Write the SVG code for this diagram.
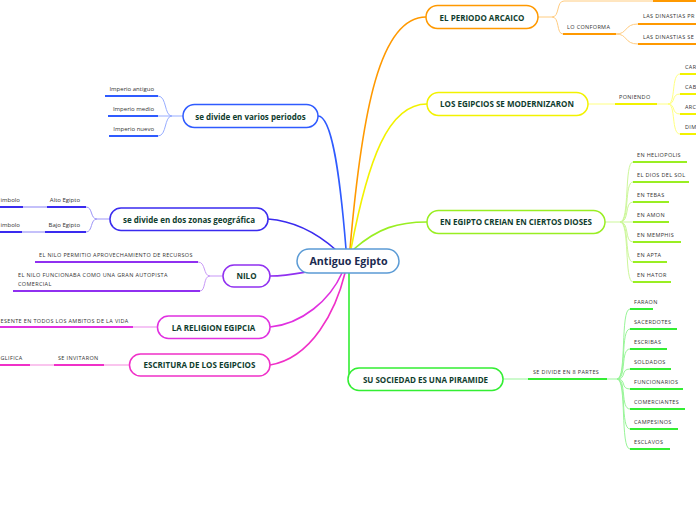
<svg xmlns="http://www.w3.org/2000/svg" width="696" height="520" viewBox="0 0 696 520">
<style>
.bg{fill:#ffffff}
.node{fill:#ffffff;stroke-width:1.5}
.nt{font-family:"Open Sans","Liberation Sans",sans-serif;font-weight:bold;font-size:8px;fill:#0f3d2e;text-anchor:middle}
.ct{font-family:"Open Sans","Liberation Sans",sans-serif;font-weight:bold;font-size:10.7px;fill:#1b2a4f;text-anchor:middle}
.st{font-family:"Open Sans","Liberation Sans",sans-serif;font-size:5.5px;letter-spacing:0.35px;fill:#333333}
.lt{font-family:"Open Sans","Liberation Sans",sans-serif;font-size:6px;fill:#333333}
.e{text-anchor:end}
.main{fill:none;stroke-width:1.6}
.thin{fill:none;stroke-width:1}
.ul{fill:none;stroke-width:2}
</style>
<rect class="bg" x="0" y="0" width="696" height="520"/>
<g id="connectors">
  <path class="main" stroke="#ff9900" d="M350,249 C362,110 380,17 426,17"/>
  <path class="main" stroke="#f2f200" d="M351,249 C368,160 388,104 427,104"/>
  <path class="main" stroke="#99ee22" d="M354,249 C378,228 398,222 427,222"/>
  <path class="main" stroke="#33ee33" d="M349,273 L349,372 Q349,379 354,379"/>
  <path class="main" stroke="#2f5bff" d="M318,116 C332,116 340,175 346,249"/>
  <path class="main" stroke="#3a2bef" d="M268,219 C295,221 318,234 336,250"/>
  <path class="main" stroke="#9030f0" d="M270,276 C285,276 295,274 306,272"/>
  <path class="main" stroke="#e030e0" d="M270,327 C302,324 330,300 342,273"/>
  <path class="main" stroke="#f030c8" d="M270,365 C312,358 336,310 345,273"/>

  <path class="thin" stroke="#ffcc80" d="M538,17 L552,17 C560,17 556,1 564,1 L653,1"/>
  <path class="ul" stroke="#ff9900" d="M653,1 L696,1"/>
  <path class="thin" stroke="#ffcc80" d="M552,17 C560,17 556,34 563,34"/>
  <path class="ul" stroke="#ff9900" d="M563,34 L616,34"/>
  <path class="thin" stroke="#ffcc80" d="M616,34 C628,34 624,24 638,24"/>
  <path class="thin" stroke="#ffcc80" d="M616,34 C628,34 624,44 638,44"/>
  <path class="ul" stroke="#ff9900" d="M638,24 L696,24 M638,44 L696,44"/>

  <path class="thin" stroke="#ffff80" d="M588,104 L615,104"/>
  <path class="ul" stroke="#f2f200" d="M615,104 L657,104"/>
  <path class="thin" stroke="#ffff80" d="M657,104 L668,104 C676,104 671,74 680,74 M668,104 C676,104 671,94 680,94 M668,104 C676,104 671,114 680,114 M668,104 C676,104 671,134 680,134"/>
  <path class="ul" stroke="#f2f200" d="M680,74 L696,74 M680,94 L696,94 M680,114 L696,114 M680,134 L696,134"/>

  <path class="thin" stroke="#ccf799" d="M605,222 L620,222 C630,222 624,162 633,162 M620,222 C630,222 624,182 633,182 M620,222 C630,222 624,202 633,202 M620,222 L633,222 M620,222 C630,222 624,242 633,242 M620,222 C630,222 624,262 633,262 M620,222 C630,222 624,282 633,282"/>
  <path class="ul" stroke="#99ee22" d="M633,162 L687,162 M633,182 L689,182 M633,202 L669,202 M633,222 L669,222 M633,242 L681,242 M633,262 L667,262 M633,282 L671,282"/>

  <path class="thin" stroke="#99f599" d="M503,379 L528,379"/>
  <path class="ul" stroke="#33ee33" d="M528,379 L607,379"/>
  <path class="thin" stroke="#99f599" d="M607,379 L617,379 C627,379 620,309 630,309 M617,379 C627,379 620,329 630,329 M617,379 C627,379 620,349 630,349 M617,379 C627,379 620,369 630,369 M617,379 C627,379 620,389 630,389 M617,379 C627,379 620,409 630,409 M617,379 C627,379 620,429 630,429 M617,379 C627,379 620,449 630,449"/>
  <path class="ul" stroke="#33ee33" d="M630,309 L653,309 M630,329 L677,329 M630,349 L667,349 M630,369 L671,369 M630,389 L683,389 M630,409 L685,409 M630,429 L678,429 M630,449 L670,449"/>

  <path class="thin" stroke="#98adff" d="M183,116 L172,116 C164,116 167,96 158,96 M172,116 L158,116 M172,116 C164,116 167,136 158,136"/>
  <path class="ul" stroke="#2f5bff" d="M105,96 L158,96 M108,116 L158,116 M109,136 L158,136"/>

  <path class="thin" stroke="#9d95f7" d="M110,219 L97,219 C90,219 93,207 86,207 M97,219 C90,219 93,232 86,232"/>
  <path class="ul" stroke="#3a2bef" d="M47,207 L86,207 M0,207 L23,207 M45,232 L86,232 M0,232 L22,232"/>
  <path class="ul" stroke="#c4c0fa" d="M23,207 L47,207 M22,232 L45,232"/>

  <path class="thin" stroke="#c797f7" d="M223,276 L210,276 C203,276 206,262 198,262 M210,276 C203,276 206,291 200,291"/>
  <path class="ul" stroke="#9030f0" d="M35,262 L198,262 M13,291 L200,291"/>

  <path class="ul" stroke="#f5c4f5" d="M133,327 L158,327"/>
  <path class="ul" stroke="#e030e0" d="M0,327 L133,327"/>

  <path class="ul" stroke="#fac4ee" d="M104,365 L130,365 M30,365 L54,365"/>
  <path class="ul" stroke="#f030c8" d="M54,365 L104,365 M0,365 L30,365"/>
</g>

<g id="center">
  <rect class="node" x="297" y="249" width="102" height="24" rx="12" stroke="#5b9bd5"/>
  <text class="ct" x="348.5" y="265">Antiguo Egipto</text>
</g>

<g id="arcaico">
  <rect class="node" x="426" y="5.5" width="112" height="23" rx="11.5" stroke="#ff9900"/>
  <text class="nt" x="482" y="20.5">EL PERIODO ARCAICO</text>
  <text class="st" x="567" y="29">LO CONFORMA</text>
  <text class="st" x="643" y="18">LAS DINASTIAS PR</text>
  <text class="st" x="643" y="38.5">LAS DINASTIAS SE</text>
</g>

<g id="modernizaron">
  <rect class="node" x="427" y="92.5" width="161" height="23" rx="11.5" stroke="#f2f200"/>
  <text class="nt" x="507" y="107">LOS EGIPCIOS SE MODERNIZARON</text>
  <text class="st" x="619" y="99">PONIENDO</text>
  <text class="st" x="685" y="69">CAR</text>
  <text class="st" x="685" y="89">CAB</text>
  <text class="st" x="685" y="109">ARC</text>
  <text class="st" x="685" y="128.5">DIM</text>
</g>

<g id="dioses">
  <rect class="node" x="427" y="210.5" width="178" height="23" rx="11.5" stroke="#99ee22"/>
  <text class="nt" x="516" y="225">EN EGIPTO CREIAN EN CIERTOS DIOSES</text>
  <text class="st" x="637" y="156.5">EN HELIOPOLIS</text>
  <text class="st" x="637" y="176.5">EL DIOS DEL SOL</text>
  <text class="st" x="637" y="196.5">EN TEBAS</text>
  <text class="st" x="637" y="216.5">EN AMON</text>
  <text class="st" x="637" y="236.5">EN MEMPHIS</text>
  <text class="st" x="637" y="256.5">EN APTA</text>
  <text class="st" x="637" y="276.5">EN HATOR</text>
</g>

<g id="sociedad">
  <rect class="node" x="348" y="368" width="155" height="22.5" rx="11" stroke="#33ee33"/>
  <text class="nt" x="425.5" y="382.5">SU SOCIEDAD ES UNA PIRAMIDE</text>
  <text class="st" x="533" y="374">SE DIVIDE EN 8  PARTES</text>
  <text class="st" x="634" y="304">FARAON</text>
  <text class="st" x="634" y="324">SACERDOTES</text>
  <text class="st" x="634" y="344">ESCRIBAS</text>
  <text class="st" x="634" y="364">SOLDADOS</text>
  <text class="st" x="634" y="384">FUNCIONARIOS</text>
  <text class="st" x="634" y="404">COMERCIANTES</text>
  <text class="st" x="634" y="424">CAMPESINOS</text>
  <text class="st" x="634" y="444">ESCLAVOS</text>
</g>

<g id="periodos">
  <rect class="node" x="183" y="104.5" width="135" height="23" rx="11.5" stroke="#2f5bff"/>
  <text class="nt" x="250.5" y="119.5">se divide en varios periodos</text>
  <text class="lt e" x="154" y="91">Imperio antiguo</text>
  <text class="lt e" x="154" y="110.5">Imperio medio</text>
  <text class="lt e" x="154" y="130.5">Imperio nuevo</text>
</g>

<g id="zonas">
  <rect class="node" x="110" y="208" width="158" height="22.5" rx="11" stroke="#3a2bef"/>
  <text class="nt" x="189" y="222.5">se divide en dos zonas geográfica</text>
  <text class="lt e" x="80" y="202">Alto Egipto</text>
  <text class="lt e" x="80" y="227">Bajo Egipto</text>
  <text class="lt" x="0.5" y="202">imbolo</text>
  <text class="lt" x="0.5" y="227">imbolo</text>
</g>

<g id="nilo">
  <rect class="node" x="223" y="265" width="47" height="22" rx="11" stroke="#9030f0"/>
  <text class="nt" x="246.5" y="279">NILO</text>
  <text class="st" x="39" y="257">EL NILO PERMITIO APROVECHAMIENTO DE RECURSOS</text>
  <text class="st" x="18" y="277">EL NILO FUNCIONABA COMO UNA GRAN AUTOPISTA</text>
  <text class="st" x="18" y="285.5">COMERCIAL</text>
</g>

<g id="religion">
  <rect class="node" x="157.5" y="316" width="112.5" height="22.5" rx="11" stroke="#e030e0"/>
  <text class="nt" x="213.5" y="330.5">LA RELIGION EGIPCIA</text>
  <text class="st" x="0.5" y="322.5">ESENTE EN TODOS LOS AMBITOS DE LA VIDA</text>
</g>

<g id="escritura">
  <rect class="node" x="129.5" y="354" width="140.5" height="22" rx="11" stroke="#f030c8"/>
  <text class="nt" x="199.5" y="368">ESCRITURA DE LOS EGIPCIOS</text>
  <text class="st" x="58" y="359.5">SE INVITARON</text>
  <text class="st" x="0.5" y="359.5">GLIFICA</text>
</g>
</svg>
